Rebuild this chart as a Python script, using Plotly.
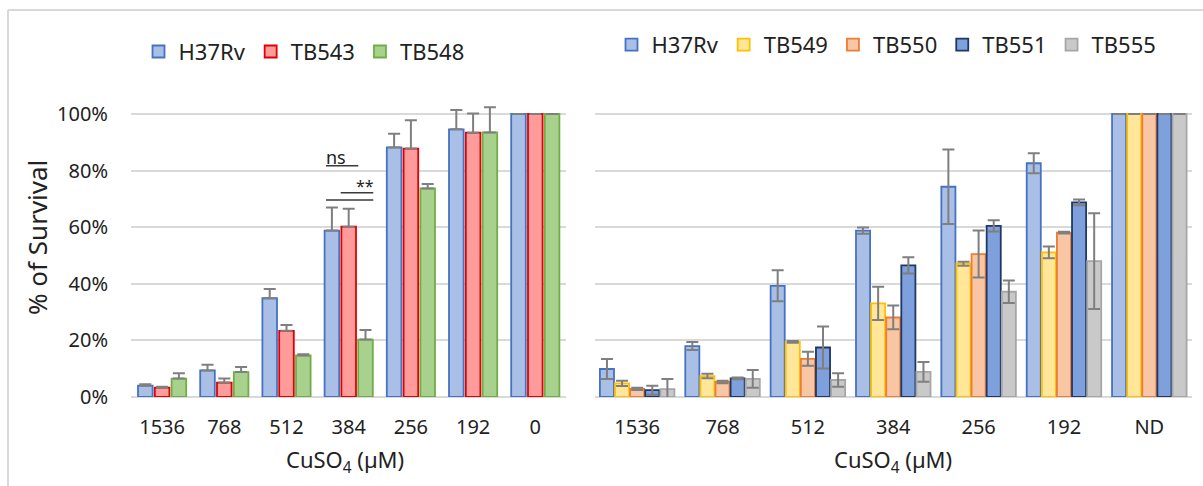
import plotly.graph_objects as go

# ---------------- data ----------------
cats_left = ["1536", "768", "512", "384", "256", "192", "0"]
cats_right = ["1536", "768", "512", "384", "256", "192", "ND"]

h37rv_left = [4.0, 9.4, 34.9, 58.8, 88.2, 94.6, 100]
h37rv_left_err = [0.5, 2.0, 3.3, 8.2, 4.8, 6.8, 0]
tb543 = [3.3, 5.1, 23.4, 60.2, 87.8, 93.4, 100]
tb543_err = [0.3, 1.4, 2.0, 6.3, 10.0, 6.8, 0]
tb548 = [6.5, 8.8, 14.7, 20.3, 73.7, 93.5, 100]
tb548_err = [1.9, 1.8, 0.4, 3.4, 1.6, 8.9, 0]

h37rv_right = [9.9, 18.0, 39.3, 58.8, 74.3, 82.6, 100]
h37rv_right_err = [3.5, 1.4, 5.5, 1.1, 13.2, 3.5, 0]
tb549 = [4.8, 7.4, 19.5, 33.1, 47.1, 51.1, 100]
tb549_err = [0.9, 0.8, 0.3, 5.9, 0.7, 2.1, 0]
tb550 = [2.9, 5.3, 13.5, 28.1, 50.5, 58.1, 100]
tb550_err = [0.4, 0.4, 2.5, 4.2, 8.3, 0.3, 0]
tb551 = [2.4, 6.6, 17.5, 46.5, 60.5, 68.8, 100]
tb551_err = [1.6, 0.3, 7.4, 2.9, 2.0, 1.0, 0]
tb555 = [2.8, 6.4, 6.0, 8.9, 37.2, 48.0, 100]
tb555_err = [3.6, 3.1, 2.4, 3.5, 4.0, 16.9, 0]

y_ticks = [0, 20, 40, 60, 80, 100]
y_tick_labels = ["0%", "20%", "40%", "60%", "80%", "100%"]

# ---------------- style ----------------
FONT = "Noto Sans"
TXT = "#222222"
GRID = "#d9d9d9"
ERR = "#7f7f7f"
W, H = 1203, 486

left_series = [
    ("H37Rv", h37rv_left, h37rv_left_err, "#a9bfe6", "#4472c4"),
    ("TB543", tb543, tb543_err, "#ff9b9b", "#e00000"),
    ("TB548", tb548, tb548_err, "#a9d18e", "#70ad47"),
]
right_series = [
    ("H37Rv", h37rv_right, h37rv_right_err, "#a9bfe6", "#4472c4"),
    ("TB549", tb549, tb549_err, "#ffe699", "#ffc000"),
    ("TB550", tb550, tb550_err, "#f8c6a5", "#ed7d31"),
    ("TB551", tb551, tb551_err, "#7ea0dc", "#203864"),
    ("TB555", tb555, tb555_err, "#c9c9c9", "#a6a6a6"),
]

fig = go.Figure()

lw, lp = 0.235, 0.27
n = len(left_series)
for i, (name, vals, err, fill, line) in enumerate(left_series):
    fig.add_trace(go.Bar(
        x=cats_left, y=vals, name=name, xaxis="x", yaxis="y", legend="legend",
        width=lw, offset=(i - (n - 1) / 2) * lp - lw / 2,
        marker=dict(color=fill, line=dict(color=line, width=1.8)),
        error_y=dict(type="data", symmetric=False, array=err,
                     arrayminus=[0] * len(err), color=ERR, thickness=2, width=6),
    ))

rw, rp = 0.165, 0.177
n = len(right_series)
for i, (name, vals, err, fill, line) in enumerate(right_series):
    fig.add_trace(go.Bar(
        x=cats_right, y=vals, name=name, xaxis="x2", yaxis="y2", legend="legend2",
        width=rw, offset=(i - (n - 1) / 2) * rp - rw / 2,
        marker=dict(color=fill, line=dict(color=line, width=1.8)),
        error_y=dict(type="data", array=err, color=ERR, thickness=2, width=6),
    ))

ydom = [(H - 397) / H, 0.8819]
axis_common = dict(
    showgrid=False, showline=False, zeroline=False,
    tickfont=dict(family=FONT, size=20, color=TXT),
    ticks="", ticklabelstandoff=16, fixedrange=True, automargin=False,
)
grid_common = dict(
    range=[0, 120], tickvals=y_ticks,
    showgrid=True, gridcolor=GRID, gridwidth=2,
    zeroline=True, zerolinecolor=GRID, zerolinewidth=2,
    showline=False, ticks="", domain=ydom, automargin=False, fixedrange=True,
)

fig.update_layout(
    width=W, height=H, autosize=False,
    margin=dict(l=0, r=0, t=0, b=0, pad=0),
    paper_bgcolor="white", plot_bgcolor="white",
    barmode="group",
    font=dict(family=FONT, color=TXT),
    xaxis=dict(domain=[131 / W, 566.4 / W], anchor="y", type="category", **axis_common),
    yaxis=dict(anchor="x", ticktext=y_tick_labels, ticklabelstandoff=22,
               tickfont=dict(family=FONT, size=20, color=TXT), **grid_common),
    xaxis2=dict(domain=[594.5 / W, 1192 / W], anchor="y2", type="category", **axis_common),
    yaxis2=dict(anchor="x2", showticklabels=False, **grid_common),
    legend=dict(orientation="h", x=304 / W, xanchor="center", y=1 - 51.7 / H, yanchor="middle",
                font=dict(family=FONT, size=22, color=TXT), bgcolor="rgba(0,0,0,0)"),
    legend2=dict(orientation="h", x=886.5 / W, xanchor="center", y=1 - 44.8 / H, yanchor="middle",
                 font=dict(family=FONT, size=22, color=TXT), bgcolor="rgba(0,0,0,0)"),
    showlegend=True,
)

# chart border lines
fig.add_shape(type="line", xref="paper", yref="paper", x0=8 / W, x1=8 / W, y0=0, y1=1 - 10 / H,
              line=dict(color=GRID, width=2))
fig.add_shape(type="line", xref="paper", yref="paper", x0=8 / W, x1=1, y0=1 - 10 / H, y1=1 - 10 / H,
              line=dict(color=GRID, width=2))

# significance marks
sig_col = "#3a3a3a"
for (x0, x1, yv) in [(2.635, 3.154, 81.7), (2.871, 3.395, 72.2), (2.635, 3.395, 69.6)]:
    fig.add_shape(type="line", xref="x", yref="y", x0=x0, x1=x1, y0=yv, y1=yv,
                  line=dict(color=sig_col, width=1.5))
fig.add_annotation(xref="x", yref="y", x=2.8, y=84.8, text="ns", showarrow=False,
                   xanchor="center", yanchor="middle",
                   font=dict(family=FONT, size=18, color=TXT))
fig.add_annotation(xref="x", yref="y", x=3.27, y=74.4, text="**", showarrow=False,
                   xanchor="center", yanchor="middle",
                   font=dict(family=FONT, size=16, color=TXT))

# axis titles
fig.add_annotation(xref="paper", yref="paper", x=37 / W, y=1 - 238 / H, text="% of Survival",
                   textangle=-90, showarrow=False, xanchor="center", yanchor="middle",
                   font=dict(family=FONT, size=26, color=TXT))
fig.add_annotation(xref="paper", yref="paper", x=345 / W, y=1 - 461 / H, text="CuSO<sub>4</sub> (µM)",
                   showarrow=False, xanchor="center", yanchor="middle",
                   font=dict(family=FONT, size=22, color=TXT))
fig.add_annotation(xref="paper", yref="paper", x=893 / W, y=1 - 461 / H, text="CuSO<sub>4</sub> (µM)",
                   showarrow=False, xanchor="center", yanchor="middle",
                   font=dict(family=FONT, size=22, color=TXT))

fig.write_html("out.html")
